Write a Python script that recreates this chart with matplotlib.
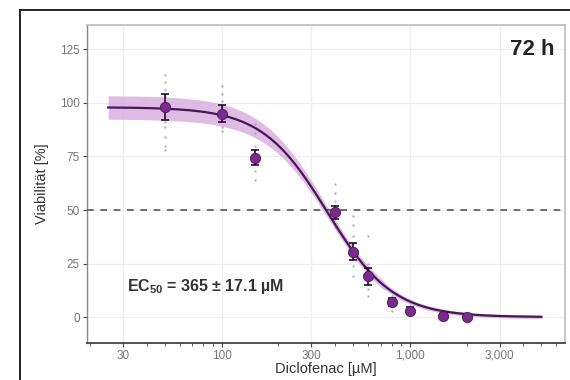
import numpy as np
import matplotlib
matplotlib.use("Agg")
import matplotlib.pyplot as plt
from matplotlib.lines import Line2D
from matplotlib.ticker import FixedLocator, NullFormatter, LogLocator

plt.rcParams['font.family'] = ['Liberation Sans', 'DejaVu Sans']
plt.rcParams['mathtext.fontset'] = 'custom'
plt.rcParams['mathtext.rm'] = 'Liberation Sans'
plt.rcParams['mathtext.bf'] = 'Liberation Sans:bold'

# ---- data ----
conc = [50, 100, 150, 400, 500, 600, 800, 1000, 1500, 2000]
mean_viab = [98, 95, 74.5, 49, 30.5, 19, 7, 3, 0.5, 0]
sd_viab = [6, 4, 3.5, 3, 4, 4, 2, 1.5, 1, 1]
replicates = {
    50: [113, 110, 106, 103, 100, 97, 94, 91, 89, 84, 80, 78],
    100: [108, 104, 101, 98, 95, 92, 89, 87],
    150: [90, 86, 80, 76, 72, 68, 64],
    400: [62, 58, 54, 50, 46, 42],
    500: [47, 43, 38, 34, 31, 28, 24, 19],
    600: [38, 25, 20, 16, 13, 10],
    800: [10, 7, 5, 3],
    1000: [5, 3, 2],
    1500: [1.5, 0.5, 0],
    2000: [1, 0, -0.5],
}
# fitted 4-parameter logistic
fit_top, fit_bottom, fit_ec50, fit_hill = 98.0, 0.0, 365.0, 2.5
fit_range = [25, 5000]
band_plateau, band_slope = 5.5, 2.0

xticks = [30, 100, 300, 1000, 3000]
xticklabels = ['30', '100', '300', '1,000', '3,000']
yticks = [0, 25, 50, 75, 100, 125]

purple_dark = '#4a1458'
purple = '#7a2c8c'
band_col = '#d4a6dc'

fig = plt.figure(figsize=(5.7, 3.8), dpi=100)
ax = fig.add_axes([87/570, 37/380, (565-87)/570, (343-25)/380])

# outer black frame (top and left visible)
fig.add_artist(Line2D([20/570, 20/570], [0, 1-10/380], transform=fig.transFigure,
                      color='#222222', lw=1.4))
fig.add_artist(Line2D([20/570, 1], [1-10/380, 1-10/380], transform=fig.transFigure,
                      color='#222222', lw=1.4))

xs = np.logspace(np.log10(fit_range[0]), np.log10(fit_range[1]), 300)
ys = fit_bottom + (fit_top - fit_bottom) / (1 + (xs / fit_ec50) ** fit_hill)
frac = ys / fit_top
bw = band_slope + (band_plateau - band_slope) * np.clip(frac, 0, 1) ** 3
bw = np.where(frac < 0.15, band_slope * 0.4 + frac * 5, bw)
ax.fill_between(xs, ys - bw, ys + bw, color=band_col, alpha=0.75, lw=0, zorder=2)
ax.plot(xs, ys, color=purple_dark, lw=1.6, zorder=4)

ax.axhline(50, color='#555555', lw=1.2, ls=(0, (4, 4)), zorder=3)

for c, vals in replicates.items():
    ax.scatter([c]*len(vals), vals, s=3, color='#8a8a9a', alpha=0.6, zorder=3, lw=0)

ax.errorbar(conc, mean_viab, yerr=sd_viab, fmt='none', ecolor='#2a0a30',
            elinewidth=1.2, capsize=3, capthick=1.2, zorder=5)
ax.scatter(conc, mean_viab, s=55, color=purple, edgecolor=purple_dark, lw=0.6, zorder=6)

ax.set_xscale('log')
ax.set_xlim(19.3, 6670)
ax.set_ylim(-12.1, 136.4)
ax.xaxis.set_major_locator(FixedLocator(xticks))
ax.set_xticklabels(xticklabels)
ax.xaxis.set_minor_locator(LogLocator(base=10, subs=np.arange(1, 10)))
ax.xaxis.set_minor_formatter(NullFormatter())
ax.set_yticks(yticks)
ax.set_yticklabels([str(v) for v in yticks])

ax.grid(True, which='major', color='#eeeeee', lw=0.9, zorder=0)
ax.set_axisbelow(True)
ax.tick_params(axis='both', which='major', labelsize=8.5, labelcolor='#777777',
               color='#444444', length=3, width=0.8, pad=2)
ax.tick_params(axis='x', which='minor', length=2, width=0.6, color='#444444')
for s in ['top', 'right']:
    ax.spines[s].set_color('#bbbbbb')
    ax.spines[s].set_linewidth(1.2)
ax.spines['left'].set_color('#888888')
ax.spines['bottom'].set_color('#333333')
ax.spines['left'].set_linewidth(1.0)
ax.spines['bottom'].set_linewidth(1.2)

ax.set_xlabel('Diclofenac [µM]', fontsize=10.5, color='#333333', labelpad=0)
ax.set_ylabel('Viabilität [%]', fontsize=10.5, color='#333333', labelpad=8)

ax.text(0.083, 0.165, r'EC$_{\mathbf{50}}$ = 365 ± 17.1 µM', transform=ax.transAxes,
        fontsize=11.5, fontweight='bold', color='#333333', ha='left', va='baseline')
ax.text(0.978, 0.955, '72 h', transform=ax.transAxes, fontsize=16, fontweight='bold',
        color='#222222', ha='right', va='top')

fig.savefig('out.png', dpi=100)
